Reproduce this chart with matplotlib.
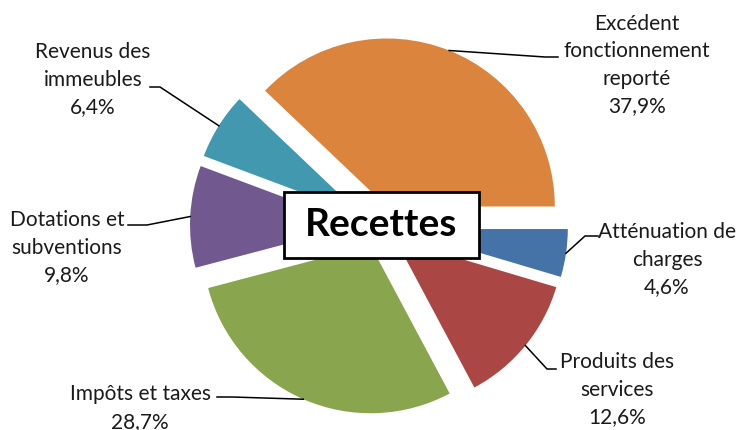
import matplotlib.pyplot as plt
from matplotlib.patches import Rectangle
import numpy as np

#====Data====
labels = ['Atténuation de\ncharges', 'Produits des\nservices', 'Impôts et taxes',
          'Dotations et\nsubventions', 'Revenus des\nimmeubles',
          'Excédent\nfonctionnement\nreporté']
values = [4.6, 12.6, 28.7, 9.8, 6.4, 37.9]
colors = ['#4572A7', '#AA4643', '#89A54E', '#71588F', '#4198AF', '#DB843D']

#====Layout (pixel coords, y down)====
cx, cy, R, off = 379, 227, 168, 21
# text centre and the two points of the leader near the text
text_pos = [(667, 260), (617, 390), (140, 408), (67, 248), (93, 80), (637, 65)]
elbows = [[(585, 237), (598, 237)],
          [(547, 370), (556, 370)],
          [(232, 398), (217, 398)],
          [(147, 226), (128, 226)],
          [(160, 88), (150, 88)],
          [(545, 58), (558, 58)]]

plt.rcParams['font.family'] = ['Lato', 'DejaVu Sans']

fig = plt.figure(figsize=(7.39, 4.31), dpi=100)
ax = fig.add_axes([0, 0, 1, 1])

# y axis goes down, so counterclock=True draws clockwise on screen
wedges, _ = ax.pie(values, colors=colors, startangle=0, counterclock=True,
                   center=(cx, cy), radius=R, explode=[off] * len(values),
                   wedgeprops=dict(linewidth=0))
ax.set_xlim(0, 739)
ax.set_ylim(431, 0)
ax.set_aspect('auto')
ax.axis('off')

#====Labels and leader lines====
for w, lab, v, tp, el in zip(wedges, labels, values, text_pos, elbows):
    th = np.deg2rad((w.theta1 + w.theta2) / 2)
    px = w.center[0] + R * np.cos(th)
    py = w.center[1] + R * np.sin(th)
    xs = [px, el[0][0], el[1][0]]
    ys = [py, el[0][1], el[1][1]]
    ax.plot(xs, ys, color='black', lw=1.1)
    txt = lab + '\n' + ('%.1f%%' % v).replace('.', ',')
    ax.text(tp[0], tp[1], txt, ha='center', va='center', multialignment='center',
            fontsize=15, color='#1a1a1a', linespacing=1.47)

#====Title box====
ax.add_patch(Rectangle((284, 193), 195, 66, facecolor='white', edgecolor='black',
                       lw=2, zorder=5))
ax.text(381, 225, 'Recettes', ha='center', va='center', fontsize=28,
        fontweight='bold', color='black', zorder=6)

plt.savefig('out.png', dpi=100)
